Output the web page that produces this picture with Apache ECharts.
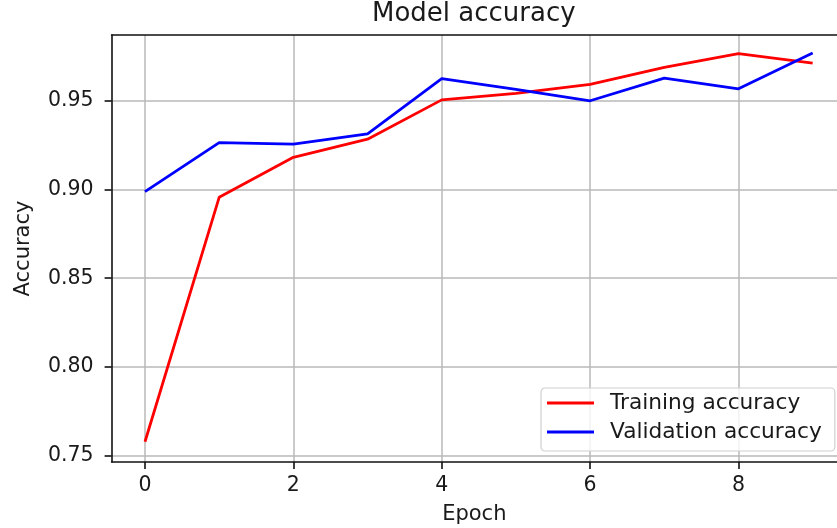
<!DOCTYPE html>
<html>
<head>
<meta charset="utf-8">
<script src="https://cdn.jsdelivr.net/npm/echarts@6/dist/echarts.min.js"></script>
<style>
html,body{margin:0;padding:0;background:#fff;}
#chart{width:837px;height:528px;}
</style>
</head>
<body>
<div id="chart"></div>
<script>
const epochs = [0, 1, 2, 3, 4, 5, 6, 7, 8, 9];
const trainAcc = [0.758, 0.8955, 0.918, 0.9282, 0.9503, 0.9540, 0.9590, 0.9686, 0.9763, 0.9710];
const valAcc = [0.8987, 0.9263, 0.9254, 0.9312, 0.9622, 0.9562, 0.9498, 0.9625, 0.9565, 0.9767];
const xTicks = [0, 2, 4, 6, 8];
const yTicks = [0.75, 0.80, 0.85, 0.90, 0.95];
const seriesNames = ['Training accuracy', 'Validation accuracy'];

const FONT = '"DejaVu Sans", sans-serif';
const TXT = '#1a1a1a';
const SPINE = {show: true, onZero: false, lineStyle: {color: '#111', width: 1.6}};

const chart = echarts.init(document.getElementById('chart'), null, {renderer: 'canvas'});
chart.setOption({
  backgroundColor: '#ffffff',
  animation: false,
  title: {
    text: 'Model accuracy',
    left: 372, top: 1, padding: 0,
    textStyle: {fontFamily: FONT, fontSize: 26, fontWeight: 'normal', color: TXT}
  },
  grid: {
    left: 111.6, top: 35, right: 0, height: 427,
    show: false, outerBoundsMode: 'none', containLabel: false
  },
  legend: {
    data: seriesNames,
    orient: 'vertical',
    left: 541, top: 388,
    icon: 'rect', itemWidth: 47, itemHeight: 3, itemGap: 7,
    padding: [4, 13, 8, 6],
    backgroundColor: 'rgba(255,255,255,0.8)',
    borderColor: '#d0d0d0', borderWidth: 1.2, borderRadius: 4,
    textStyle: {fontFamily: FONT, fontSize: 21.7, color: TXT, lineHeight: 22, padding: [0, 0, 0, 11]}
  },
  xAxis: [{
    type: 'value', min: -0.45, max: 9.328,
    name: 'Epoch', nameLocation: 'middle', nameGap: 42,
    nameTextStyle: {fontFamily: FONT, fontSize: 21, color: TXT},
    axisLine: SPINE,
    axisTick: {show: true, customValues: xTicks, length: 7, lineStyle: {color: '#111', width: 1.6}},
    axisLabel: {customValues: xTicks, margin: 13, fontFamily: FONT, fontSize: 20.5, color: TXT},
    splitLine: {show: true, lineStyle: {color: '#b8b8b8', width: 1.5}}
  }, {
    type: 'value', position: 'top', min: -0.45, max: 9.328,
    axisLine: SPINE, axisTick: {show: false}, axisLabel: {show: false}, splitLine: {show: false}
  }],
  yAxis: {
    type: 'value', min: 0.7466, max: 0.9868,
    name: 'Accuracy', nameLocation: 'middle', nameGap: 78,
    nameTextStyle: {fontFamily: FONT, fontSize: 21, color: TXT},
    axisLine: SPINE,
    axisTick: {show: true, customValues: yTicks, length: 7, lineStyle: {color: '#111', width: 1.6}},
    axisLabel: {customValues: yTicks, margin: 18, fontFamily: FONT, fontSize: 20.5, color: TXT,
      formatter: v => v.toFixed(2)},
    splitLine: {show: true, lineStyle: {color: '#b8b8b8', width: 1.5}}
  },
  series: [
    {
      name: seriesNames[0], type: 'line', showSymbol: false, symbol: 'none',
      data: epochs.map((e, i) => [e, trainAcc[i]]),
      lineStyle: {color: '#ff0000', width: 2.8}, itemStyle: {color: '#ff0000'}
    },
    {
      name: seriesNames[1], type: 'line', showSymbol: false, symbol: 'none',
      data: epochs.map((e, i) => [e, valAcc[i]]),
      lineStyle: {color: '#0000ff', width: 2.8}, itemStyle: {color: '#0000ff'}
    }
  ]
});
</script>
</body>
</html>
